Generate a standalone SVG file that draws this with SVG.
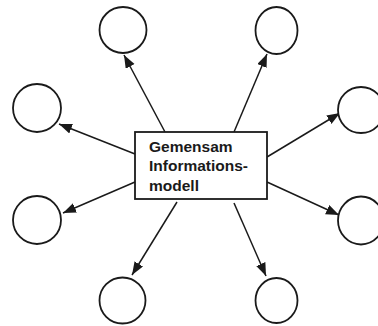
<svg xmlns="http://www.w3.org/2000/svg" width="378" height="326" viewBox="0 0 378 326">
  <style>
    .node { fill: #fff; stroke: #1a1a1a; stroke-width: 1.8; }
    .edge { stroke: #1a1a1a; stroke-width: 1.5; fill: none; marker-end: url(#arrow); }
    .label { font-family: "Liberation Sans", Arial, sans-serif; font-weight: bold; font-size: 15.5px; fill: #1a1a1a; }
  </style>
  <defs>
    <marker id="arrow" markerUnits="userSpaceOnUse" markerWidth="14" markerHeight="11" refX="13" refY="5" orient="auto">
      <path d="M0,0 L13,5 L0,10 z" fill="#1a1a1a"/>
    </marker>
  </defs>
  <rect width="378" height="326" fill="#fff"/>

  <!-- connectors from the central model to each satellite -->
  <g id="connectors">
    <line class="edge" x1="165" y1="132" x2="124" y2="55"/>
    <line class="edge" x1="234" y1="132" x2="267" y2="54"/>
    <line class="edge" x1="135" y1="154" x2="59" y2="124"/>
    <line class="edge" x1="267" y1="157" x2="340" y2="113"/>
    <line class="edge" x1="135" y1="182" x2="63" y2="213"/>
    <line class="edge" x1="267" y1="182" x2="339" y2="215"/>
    <line class="edge" x1="177" y1="202" x2="132" y2="275"/>
    <line class="edge" x1="234" y1="203" x2="266" y2="276"/>
  </g>

  <!-- central node -->
  <g id="model">
    <rect class="node" x="135" y="132" width="132" height="67"/>
    <text class="label" x="149" y="152">Gemensam</text>
    <text class="label" x="149" y="171">Informations-</text>
    <text class="label" x="149" y="191">modell</text>
  </g>

  <!-- satellite nodes -->
  <g id="n-top-left"><ellipse class="node" cx="123" cy="30" rx="23.5" ry="23"/></g>
  <g id="n-top-right"><ellipse class="node" cx="276.5" cy="30.5" rx="21" ry="23.5"/></g>
  <g id="n-left"><ellipse class="node" cx="37" cy="108" rx="24" ry="24"/></g>
  <g id="n-right"><ellipse class="node" cx="361" cy="110" rx="23" ry="23"/></g>
  <g id="n-left-low"><ellipse class="node" cx="37" cy="220" rx="24" ry="24"/></g>
  <g id="n-right-low"><ellipse class="node" cx="361" cy="220.5" rx="23" ry="24"/></g>
  <g id="n-bottom-left"><ellipse class="node" cx="122.5" cy="300.5" rx="23" ry="23"/></g>
  <g id="n-bottom-right"><ellipse class="node" cx="276.5" cy="300.5" rx="21" ry="22.5"/></g>
</svg>
